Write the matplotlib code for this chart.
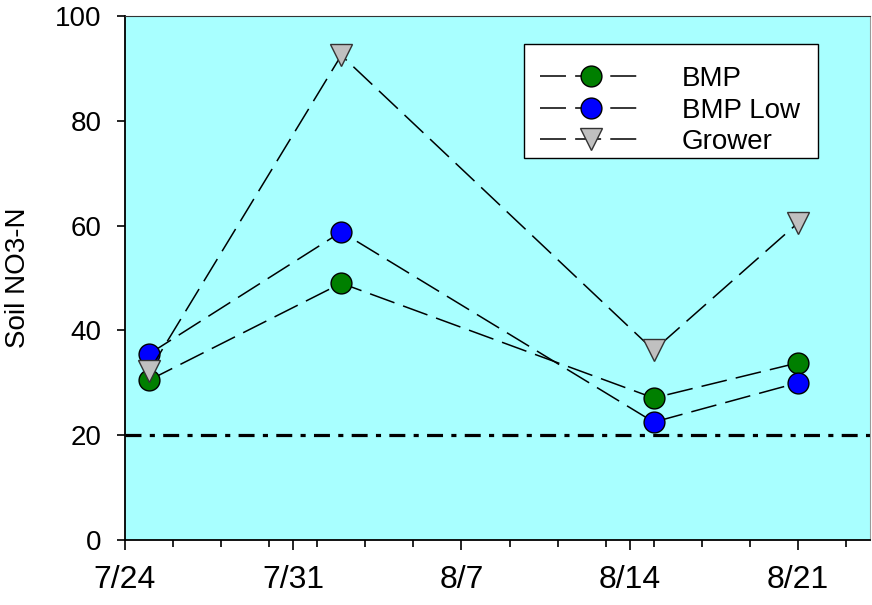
import pandas as pd
import matplotlib
matplotlib.use('Agg')
import matplotlib.pyplot as plt
import matplotlib.dates as mdates
from matplotlib.patches import Rectangle

plt.rcParams['font.family'] = ['Liberation Sans', 'DejaVu Sans']

# data
dates = pd.to_datetime(['2023-07-25', '2023-08-02', '2023-08-15', '2023-08-21'])
bmp = [30.5, 49.0, 27.1, 33.8]
bmp_low = [35.5, 58.8, 22.5, 30.0]
grower = [32.2, 92.5, 36.2, 60.5]
threshold = 20
x_start = pd.Timestamp('2023-07-24')
x_end = pd.Timestamp('2023-08-24')
tick_dates = pd.date_range('2023-07-24', periods=5, freq='7D')
tick_labels = ['7/24', '7/31', '8/7', '8/14', '8/21']

W, H = 872, 605
fig = plt.figure(figsize=(W / 100, H / 100), dpi=100)
ax = fig.add_axes([125/W, 65/H, 745/W, 524/H])
ax.set_facecolor('#A8FFFF')

dash = (0, (17, 6))
ax.plot(dates, bmp, linestyle=dash, color='black', lw=1.1, marker='o', ms=15,
        mfc='#007F00', mec='black', mew=1.0, label='BMP', zorder=3)
ax.plot(dates, bmp_low, linestyle=dash, color='black', lw=1.1, marker='o', ms=15,
        mfc='#0000FF', mec='black', mew=1.0, label='BMP Low', zorder=3)
ax.plot(dates, grower, linestyle=dash, color='black', lw=1.1, marker='v', ms=16,
        mfc='#C0C0C0', mec='#333333', mew=1.0, label='Grower', zorder=3)

# threshold line
ax.axhline(threshold, color='black', lw=2.3, linestyle=(0, (5, 2.6, 1.6, 2.6)), zorder=2)

ax.set_xlim(x_start, x_end)
ax.set_ylim(0, 100)
ax.set_yticks([0, 20, 40, 60, 80, 100])
ax.set_xticks(tick_dates)
ax.set_xticklabels(tick_labels)
ax.xaxis.set_minor_locator(mdates.DayLocator(interval=2))
ax.tick_params(axis='x', which='major', labelsize=23, length=7, width=1.2, pad=11)
ax.tick_params(axis='x', which='minor', length=5, width=1.2)
ax.tick_params(axis='y', labelsize=20, length=6, width=1.2, pad=11)
ax.set_ylabel('Soil NO3-N', fontsize=20, labelpad=17)

for s in ['left', 'bottom']:
    ax.spines[s].set_linewidth(1.3)
ax.spines['top'].set_color('#333333')
ax.spines['right'].set_color('#999999')

# legend box (SigmaPlot style: more room on top than at the bottom)
box = Rectangle((524/W, 1 - 158/H), 294/W, 114/H, transform=fig.transFigure,
                facecolor='white', edgecolor='black', lw=1.0, zorder=4.5, clip_on=False)
ax.add_patch(box)
leg = ax.legend(loc='upper left', bbox_to_anchor=(540/W, 1 - 66/H),
                bbox_transform=fig.transFigure, borderaxespad=0, fontsize=20,
                handlelength=3.7, handletextpad=1.4, labelspacing=0.2,
                frameon=False, borderpad=0)
leg.set_zorder(5)

fig.savefig('out.png', dpi=100)
